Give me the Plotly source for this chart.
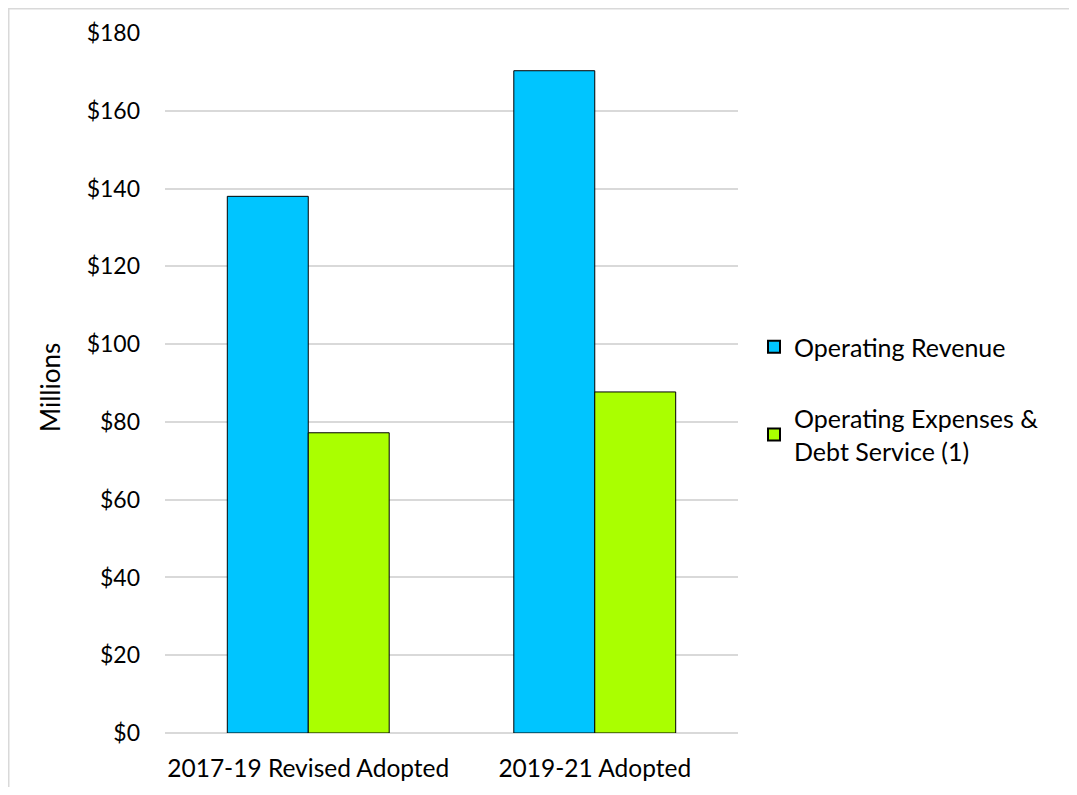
import plotly.graph_objects as go

categories = ["2017-19 Revised Adopted", "2019-21 Adopted"]
operating_revenue = [138.0, 170.3]
operating_expenses = [77.2, 87.7]
y_ticks = [0, 20, 40, 60, 80, 100, 120, 140, 160, 180]
y_tick_labels = ["$0", "$20", "$40", "$60", "$80", "$100", "$120", "$140", "$160", "$180"]

FONT = "Lato, 'Open Sans', sans-serif"

fig = go.Figure()
fig.add_trace(go.Bar(
    name="Operating Revenue", x=categories, y=operating_revenue,
    marker=dict(color="#00C5FF", line=dict(color="#000000", width=1)),
    legendgroup="a",
))
fig.add_trace(go.Bar(
    name="Operating Expenses &<br>Debt Service (1)", x=categories, y=operating_expenses,
    marker=dict(color="#AAFF00", line=dict(color="#000000", width=1)),
    legendgroup="b",
))

OFF = 8  # default page body margin
W, H = 1077 - 2 * OFF, 795 - 2 * OFF
L, R, T, B = 165 - OFF, 738 - OFF, 33 - OFF, 733 - OFF
pw, ph = R - L, B - T

def px_x(x):
    return (x - OFF - L) / pw

def px_y(y):
    return (B - (y - OFF)) / ph

fig.update_layout(
    width=W, height=H,
    margin=dict(l=L, r=W - R, t=T, b=H - B, autoexpand=False),
    paper_bgcolor="white", plot_bgcolor="white",
    barmode="group", bargap=0.435, bargroupgap=0,
    font=dict(family=FONT, size=22, color="#000000"),
    showlegend=True,
    legend=dict(
        x=px_x(754), y=px_y(324), xanchor="left", yanchor="top",
        font=dict(size=25, family=FONT), tracegroupgap=36,
        itemsizing="constant", bgcolor="rgba(0,0,0,0)",
    ),
    xaxis=dict(
        showgrid=False, showline=False, ticks="", automargin=False,
        tickfont=dict(size=24.5, family=FONT), ticklabelstandoff=18,
    ),
    yaxis=dict(
        range=[0, 180], tickvals=y_ticks, ticktext=y_tick_labels,
        showgrid=True, gridcolor="#D9D9D9", gridwidth=1.5, automargin=False,
        zeroline=True, zerolinecolor="#D9D9D9", zerolinewidth=1.5,
        showline=False, ticks="", ticklabelstandoff=24,
        tickfont=dict(size=23, family=FONT),
    ),
    annotations=[dict(
        text="Millions", textangle=-90, showarrow=False,
        xref="paper", yref="paper", x=px_x(50), y=px_y(388),
        xanchor="center", yanchor="middle",
        font=dict(size=26, family=FONT, color="#000000"),
    )],
    shapes=[dict(
        type="rect", xref="paper", yref="paper",
        x0=px_x(OFF + 0.75), x1=px_x(1100), y0=px_y(820), y1=px_y(OFF + 0.75),
        line=dict(color="#D9D9D9", width=1.5), fillcolor="rgba(0,0,0,0)", layer="below",
    )],
)

fig.write_html("out.html")
